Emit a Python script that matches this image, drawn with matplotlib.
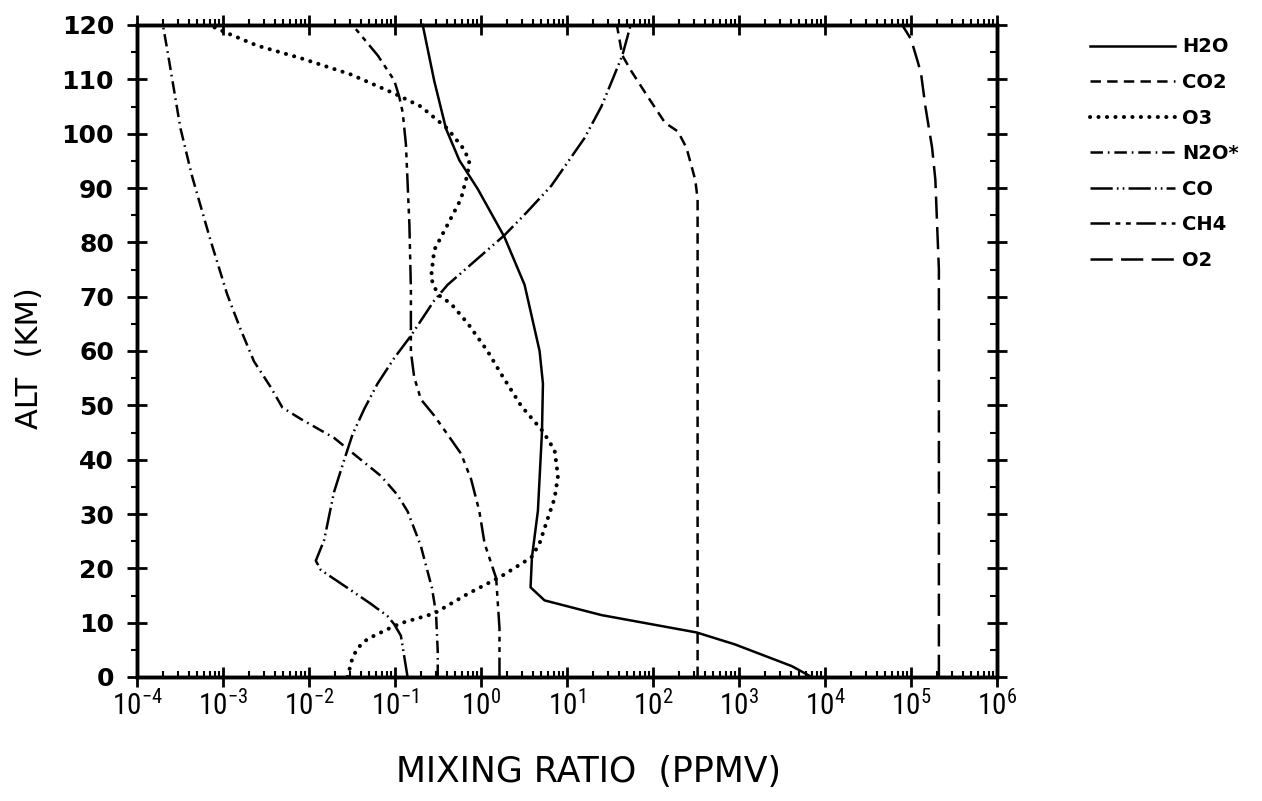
import math
import matplotlib
matplotlib.use("Agg")
import matplotlib.pyplot as plt
from matplotlib import font_manager
from matplotlib.ticker import FixedLocator, LogLocator, NullFormatter, FuncFormatter

plt.rcParams['lines.scale_dashes'] = False

# pick a narrow font for the x tick labels if one is installed
_fonts = font_manager.fontManager.ttflist
NARROW, STRETCH = 'DejaVu Sans', 'normal'
for cand in ['Liberation Sans Narrow', 'Roboto Condensed', 'Open Sans Condensed', 'Noto Sans Condensed']:
    if any(f.name == cand for f in _fonts):
        NARROW = cand
        break
else:
    for f in _fonts:
        if f.name in ('DejaVu Sans', 'Noto Sans', 'Open Sans', 'Roboto') and str(f.stretch) in ('condensed', '75', 'semi-condensed', '87.5', 'semicondensed'):
            NARROW, STRETCH = f.name, 'condensed'
            break

# ---------------- data (ppmv vs altitude km) ----------------
h2o_alt = [0, 2, 6, 8.2, 11.4, 14.1, 16.5, 22, 30.6, 45.2, 54, 60, 72.2, 81, 89.8, 95.1, 100.9, 109.7, 120]
h2o_val = [7000, 4110, 897, 321, 25.1, 5.48, 3.77, 3.91, 4.59, 5.12, 5.25, 4.80, 3.21, 1.87, 0.918, 0.560, 0.392, 0.286, 0.210]

co2_alt = [0, 88, 91.5, 97.4, 100.4, 102, 106.8, 111.5, 114.4, 120]
co2_val = [330, 330, 310, 245, 195, 138, 87, 56, 44, 38]

o3_alt = [0, 3.5, 5.3, 7, 8.8, 9.9, 11.7, 15.3, 18.5, 22, 24.6, 29.3, 32.9, 37, 41.7, 45.2, 49.9,
          55.8, 59.9, 65.1, 68.7, 70.4, 73.4, 78.6, 83.3, 88, 92.7, 95.1, 97.4, 100.9, 105, 107.4,
          110.9, 113.9, 116.2, 118.5, 120]
o3_val = [0.028, 0.032, 0.0366, 0.0479, 0.082, 0.117, 0.286, 0.70, 1.71, 3.84, 4.80, 6.01, 7.18, 7.85,
          7.18, 5.25, 2.93, 1.71, 1.20, 0.70, 0.448, 0.314, 0.262, 0.286, 0.41, 0.586, 0.70, 0.733,
          0.614, 0.41, 0.20, 0.098, 0.0306, 0.0080, 0.0025, 0.00112, 0.00069]

n2o_alt = [0, 4.7, 11.7, 16.4, 21.7, 24.1, 30.5, 33.5, 37, 40.5, 44, 47.5, 49.6, 53.4, 58.1, 64,
           70.4, 80.4, 92.1, 101, 115.6, 120]
n2o_val = [0.314, 0.314, 0.30, 0.269, 0.219, 0.20, 0.140, 0.107, 0.0686, 0.0366, 0.0196, 0.0080,
           0.0049, 0.00357, 0.00229, 0.0016, 0.00112, 0.000715, 0.000438, 0.00032, 0.000224, 0.0002]

co_alt = [0, 7.6, 9.7, 11.2, 13.5, 16.4, 19.7, 21.4, 25.2, 34, 39.9, 44.6, 49.3, 54, 58.7, 62.8,
          69.3, 72.2, 81.3, 85.5, 90.4, 99.2, 105, 109.8, 114.4, 120]
co_val = [0.140, 0.117, 0.098, 0.082, 0.052, 0.028, 0.0137, 0.012, 0.015, 0.0195, 0.0256, 0.032,
          0.0438, 0.0627, 0.098, 0.153, 0.286, 0.41, 1.87, 3.39, 6.56, 16.0, 25.1, 33.5, 44.0, 55.0]

ch4_alt = [0, 9, 18.2, 24.6, 30.5, 36.4, 41.1, 44.6, 48.1, 51.1, 55.2, 59.9, 71.6, 83.3, 98,
           103.9, 106.8, 109.8, 114.4, 120]
ch4_val = [1.64, 1.64, 1.50, 1.10, 0.957, 0.767, 0.586, 0.41, 0.286, 0.20, 0.167, 0.153, 0.153,
           0.147, 0.134, 0.123, 0.112, 0.098, 0.063, 0.032]

o2_alt = [0, 75, 83.4, 91.5, 97.4, 105, 111, 113.2, 117.4, 120]
o2_val = [2.11e5, 2.11e5, 2.01e5, 1.92e5, 1.76e5, 1.47e5, 1.31e5, 1.2e5, 1.0e5, 7.9e4]

labels = ["H2O", "CO2", "O3", "N2O*", "CO", "CH4", "O2"]
x_exponents = [-4, -3, -2, -1, 0, 1, 2, 3, 4, 5, 6]
y_ticks = [0, 10, 20, 30, 40, 50, 60, 70, 80, 90, 100, 110, 120]

# ---------------- figure ----------------
W, H = 1262, 801
fig = plt.figure(figsize=(W / 100, H / 100), dpi=100)
L, R, T, B = 137 / W, 997 / W, 1 - 25 / H, 1 - 677 / H
ax = fig.add_axes([L, B, R - L, T - B])

lw = 1.8
styles = [
    dict(ls='-'),
    dict(ls=(0, (7.5, 4.5))),
    dict(ls=(0, (0.1, 6.0)), dash_capstyle='round', lw=2.9),
    dict(ls=(0, (9, 3.5, 1.2, 3.5))),
    dict(ls=(0, (16, 3, 1.2, 3, 1.2, 3))),
    dict(ls=(0, (14, 4, 3.5, 4, 3.5, 4))),
    dict(ls=(0, (16, 6))),
]
series = [(h2o_val, h2o_alt), (co2_val, co2_alt), (o3_val, o3_alt), (n2o_val, n2o_alt),
          (co_val, co_alt), (ch4_val, ch4_alt), (o2_val, o2_alt)]
handles = []
for (v, a), st, lab in zip(series, styles, labels):
    kw = dict(color='black', lw=lw)
    kw.update(st)
    ln, = ax.plot(v, a, label=lab, **kw)
    ln.set_clip_on(False)
    handles.append(ln)

ax.set_xscale('log')
ax.set_xlim(1e-4, 1e6)
ax.set_ylim(0, 120)

for sp in ax.spines.values():
    sp.set_linewidth(2.4)

def xfmt(x, pos):
    e = int(round(math.log10(x)))
    return r'$\mathregular{10^{%d}}$' % e

ax.xaxis.set_major_locator(FixedLocator([10.0 ** e for e in x_exponents]))
ax.xaxis.set_major_formatter(FuncFormatter(xfmt))
ax.xaxis.set_minor_locator(LogLocator(base=10, subs=range(2, 10), numticks=100))
ax.xaxis.set_minor_formatter(NullFormatter())
ax.yaxis.set_major_locator(FixedLocator(y_ticks))
ax.yaxis.set_minor_locator(FixedLocator([t + 5 for t in y_ticks[:-1]]))

ax.tick_params(which='major', direction='inout', length=15, width=2.0, top=False, right=False)
ax.tick_params(axis='y', which='minor', direction='out', length=4, width=1.5, right=False)
ax.tick_params(axis='x', which='minor', direction='in', length=4, width=1.5, top=False)
ax.tick_params(axis='y', which='major', labelsize=18, pad=9)
ax.tick_params(axis='x', which='major', labelsize=21, pad=2)
for t in ax.get_yticklabels():
    t.set_fontweight('bold')
for t in ax.get_xticklabels():
    t.set_fontfamily(NARROW)
    t.set_fontstretch(STRETCH)

# top and right axes with their own tick directions
axt = ax.twiny()
axt.set_xscale('log')
axt.set_xlim(ax.get_xlim())
axt.xaxis.set_major_locator(FixedLocator([10.0 ** e for e in x_exponents]))
axt.xaxis.set_minor_locator(LogLocator(base=10, subs=range(2, 10), numticks=100))
axt.xaxis.set_major_formatter(NullFormatter())
axt.xaxis.set_minor_formatter(NullFormatter())
axt.tick_params(which='major', direction='inout', length=15, width=2.0)
axt.tick_params(which='minor', direction='out', length=4, width=1.5)
axr = ax.twinx()
axr.set_ylim(ax.get_ylim())
axr.yaxis.set_major_locator(FixedLocator(y_ticks))
axr.yaxis.set_minor_locator(FixedLocator([t + 5 for t in y_ticks[:-1]]))
axr.yaxis.set_major_formatter(NullFormatter())
axr.tick_params(which='major', direction='inout', length=15, width=2.0)
axr.tick_params(which='minor', direction='in', length=5, width=1.5)
for a in (axt, axr):
    for sp in a.spines.values():
        sp.set_linewidth(2.4)

fig.text(30 / W, 1 - 358 / H, 'ALT  (KM)', fontsize=22, rotation=90, ha='center', va='center')
fig.text(588 / W, 1 - 772 / H, 'MIXING RATIO  (PPMV)', fontsize=25, ha='center', va='center')

leg = fig.legend(handles=handles, labels=labels, loc='upper left',
                 bbox_to_anchor=(1072 / W, 1 - 20 / H), frameon=False,
                 handlelength=4.4, handletextpad=0.35, labelspacing=0.85,
                 prop=dict(size=14, weight='bold'))

fig.savefig('out.png', dpi=100, facecolor='white')
